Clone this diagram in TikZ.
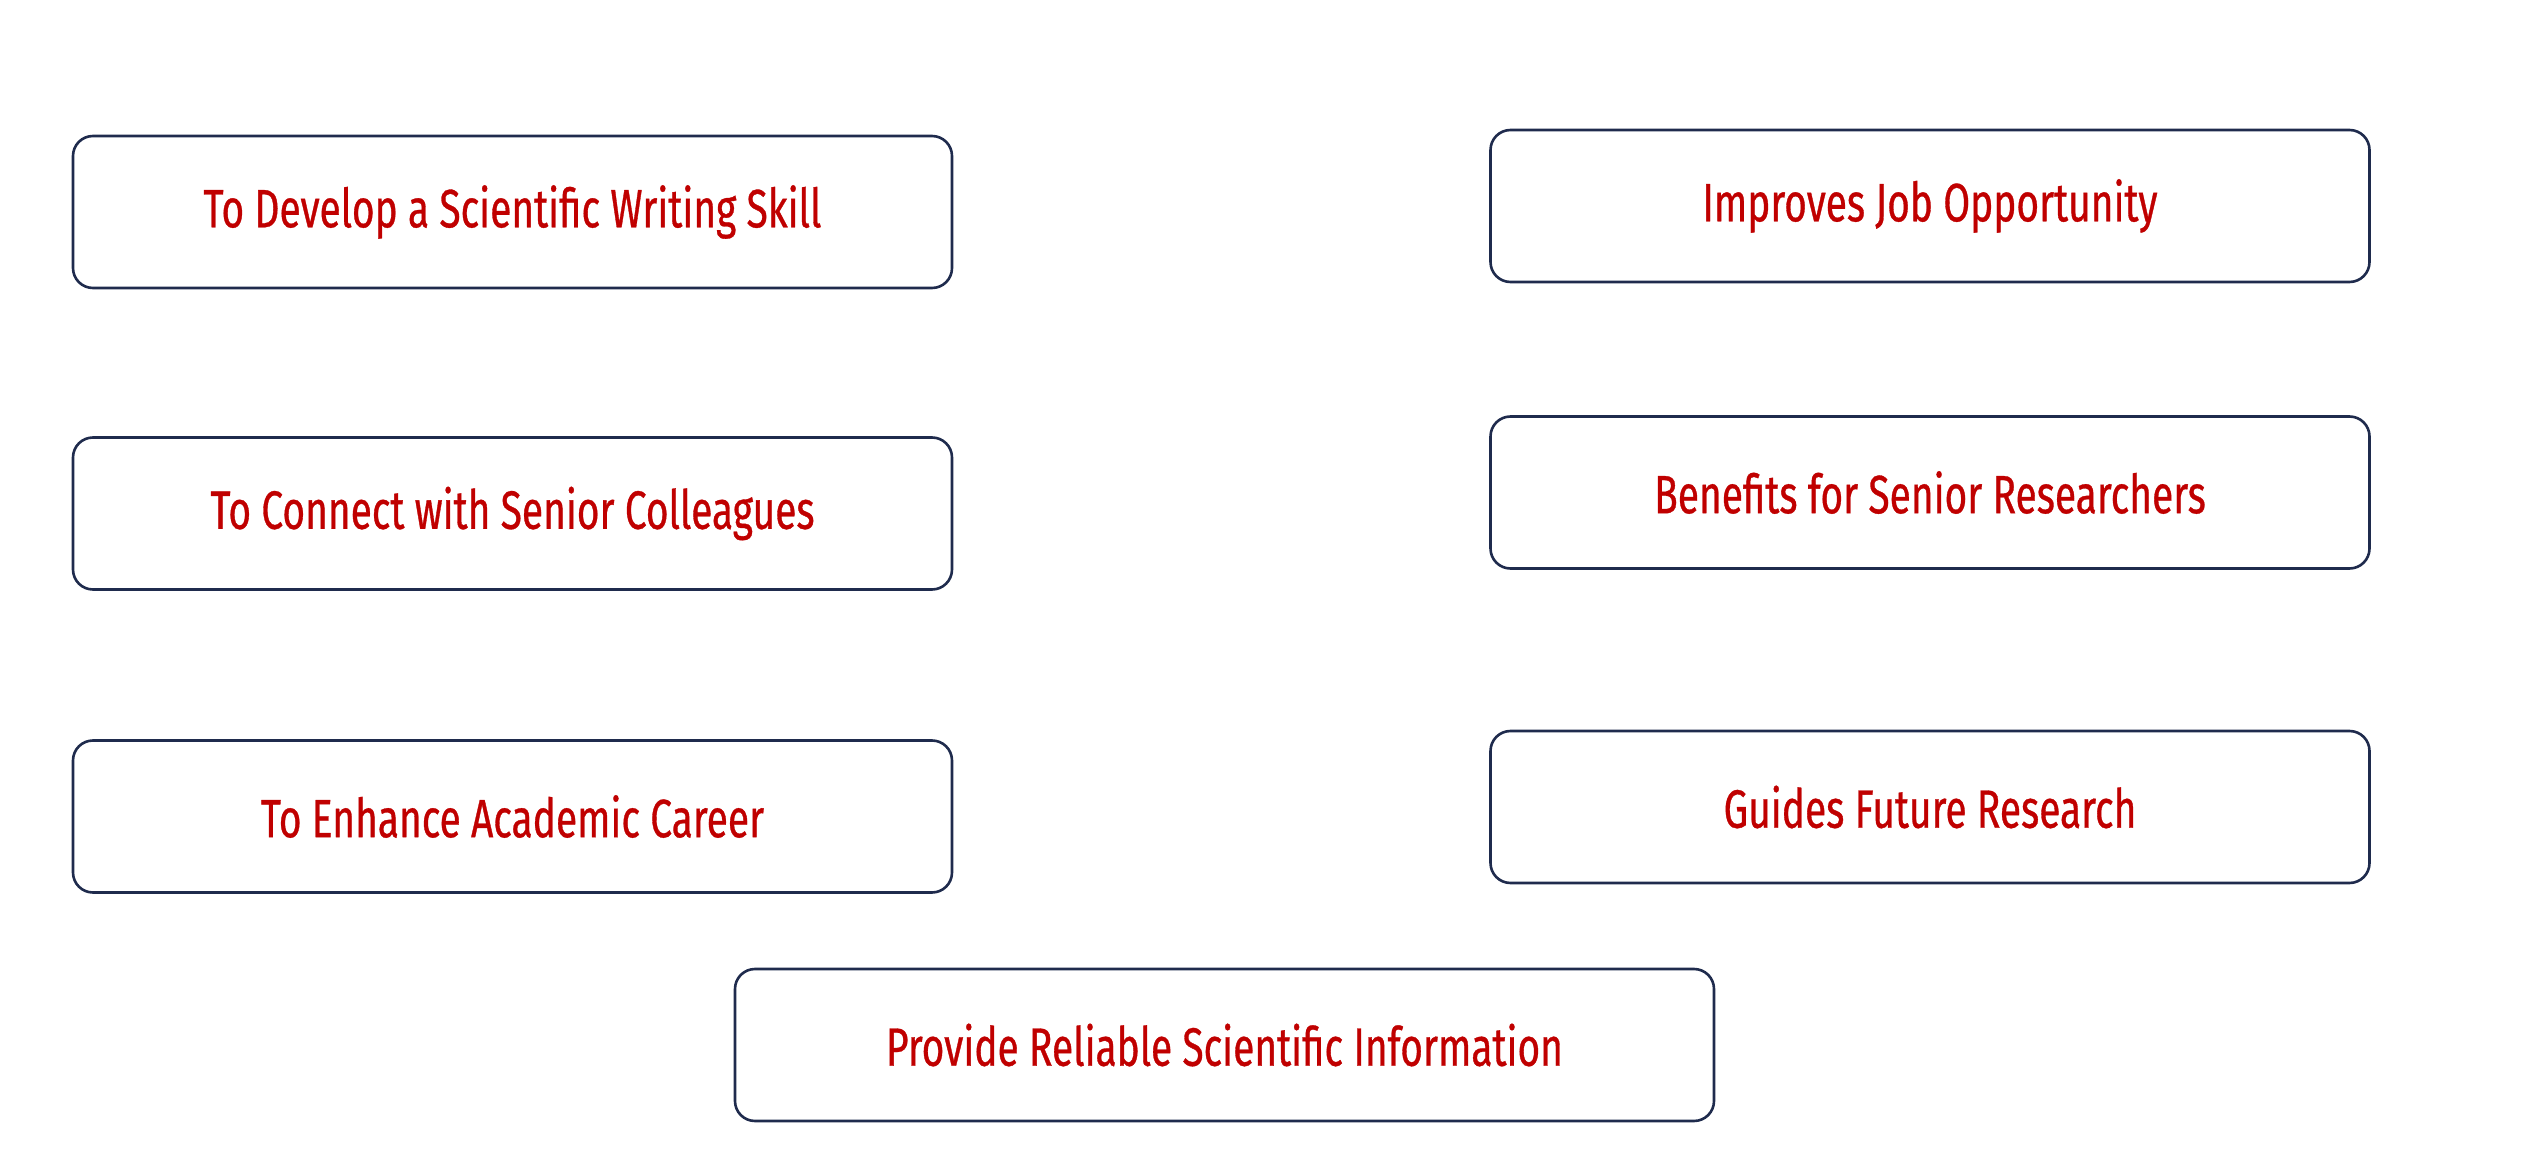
\documentclass[tikz,border=0pt]{standalone}
\usepackage{fontspec}
\setmainfont[FakeStretch=0.72, FakeBold=0.6]{Fira Sans}
\begin{document}
\begin{tikzpicture}[x=0.5pt,y=-0.5pt,
  box/.style={draw=navy, line width=1.3pt, rounded corners=10pt, fill=white,
    minimum width=439.5pt, minimum height=76pt, inner sep=0pt,
    text=boxred, font=\fontsize{27}{32}\selectfont},
  widebox/.style={box, minimum width=489.5pt}]
\definecolor{navy}{HTML}{1F2B4D}
\definecolor{boxred}{HTML}{C00000}
\useasboundingbox (0,0) rectangle (2540,1150);
\node[box] (skill) at (512.5,212) {To Develop a Scientific Writing Skill};
\node[box] (colleagues) at (512.5,513.5) {To Connect with Senior Colleagues};
\node[box] (career) at (512.5,816.5) {To Enhance Academic Career};
\node[box] (job) at (1930,206) {Improves Job Opportunity};
\node[box] (senior) at (1930,492.5) {Benefits for Senior Researchers};
\node[box] (future) at (1930,807) {Guides Future Research};
\node[widebox] (info) at (1224.5,1045) {Provide Reliable Scientific Information};
\end{tikzpicture}
\end{document}
